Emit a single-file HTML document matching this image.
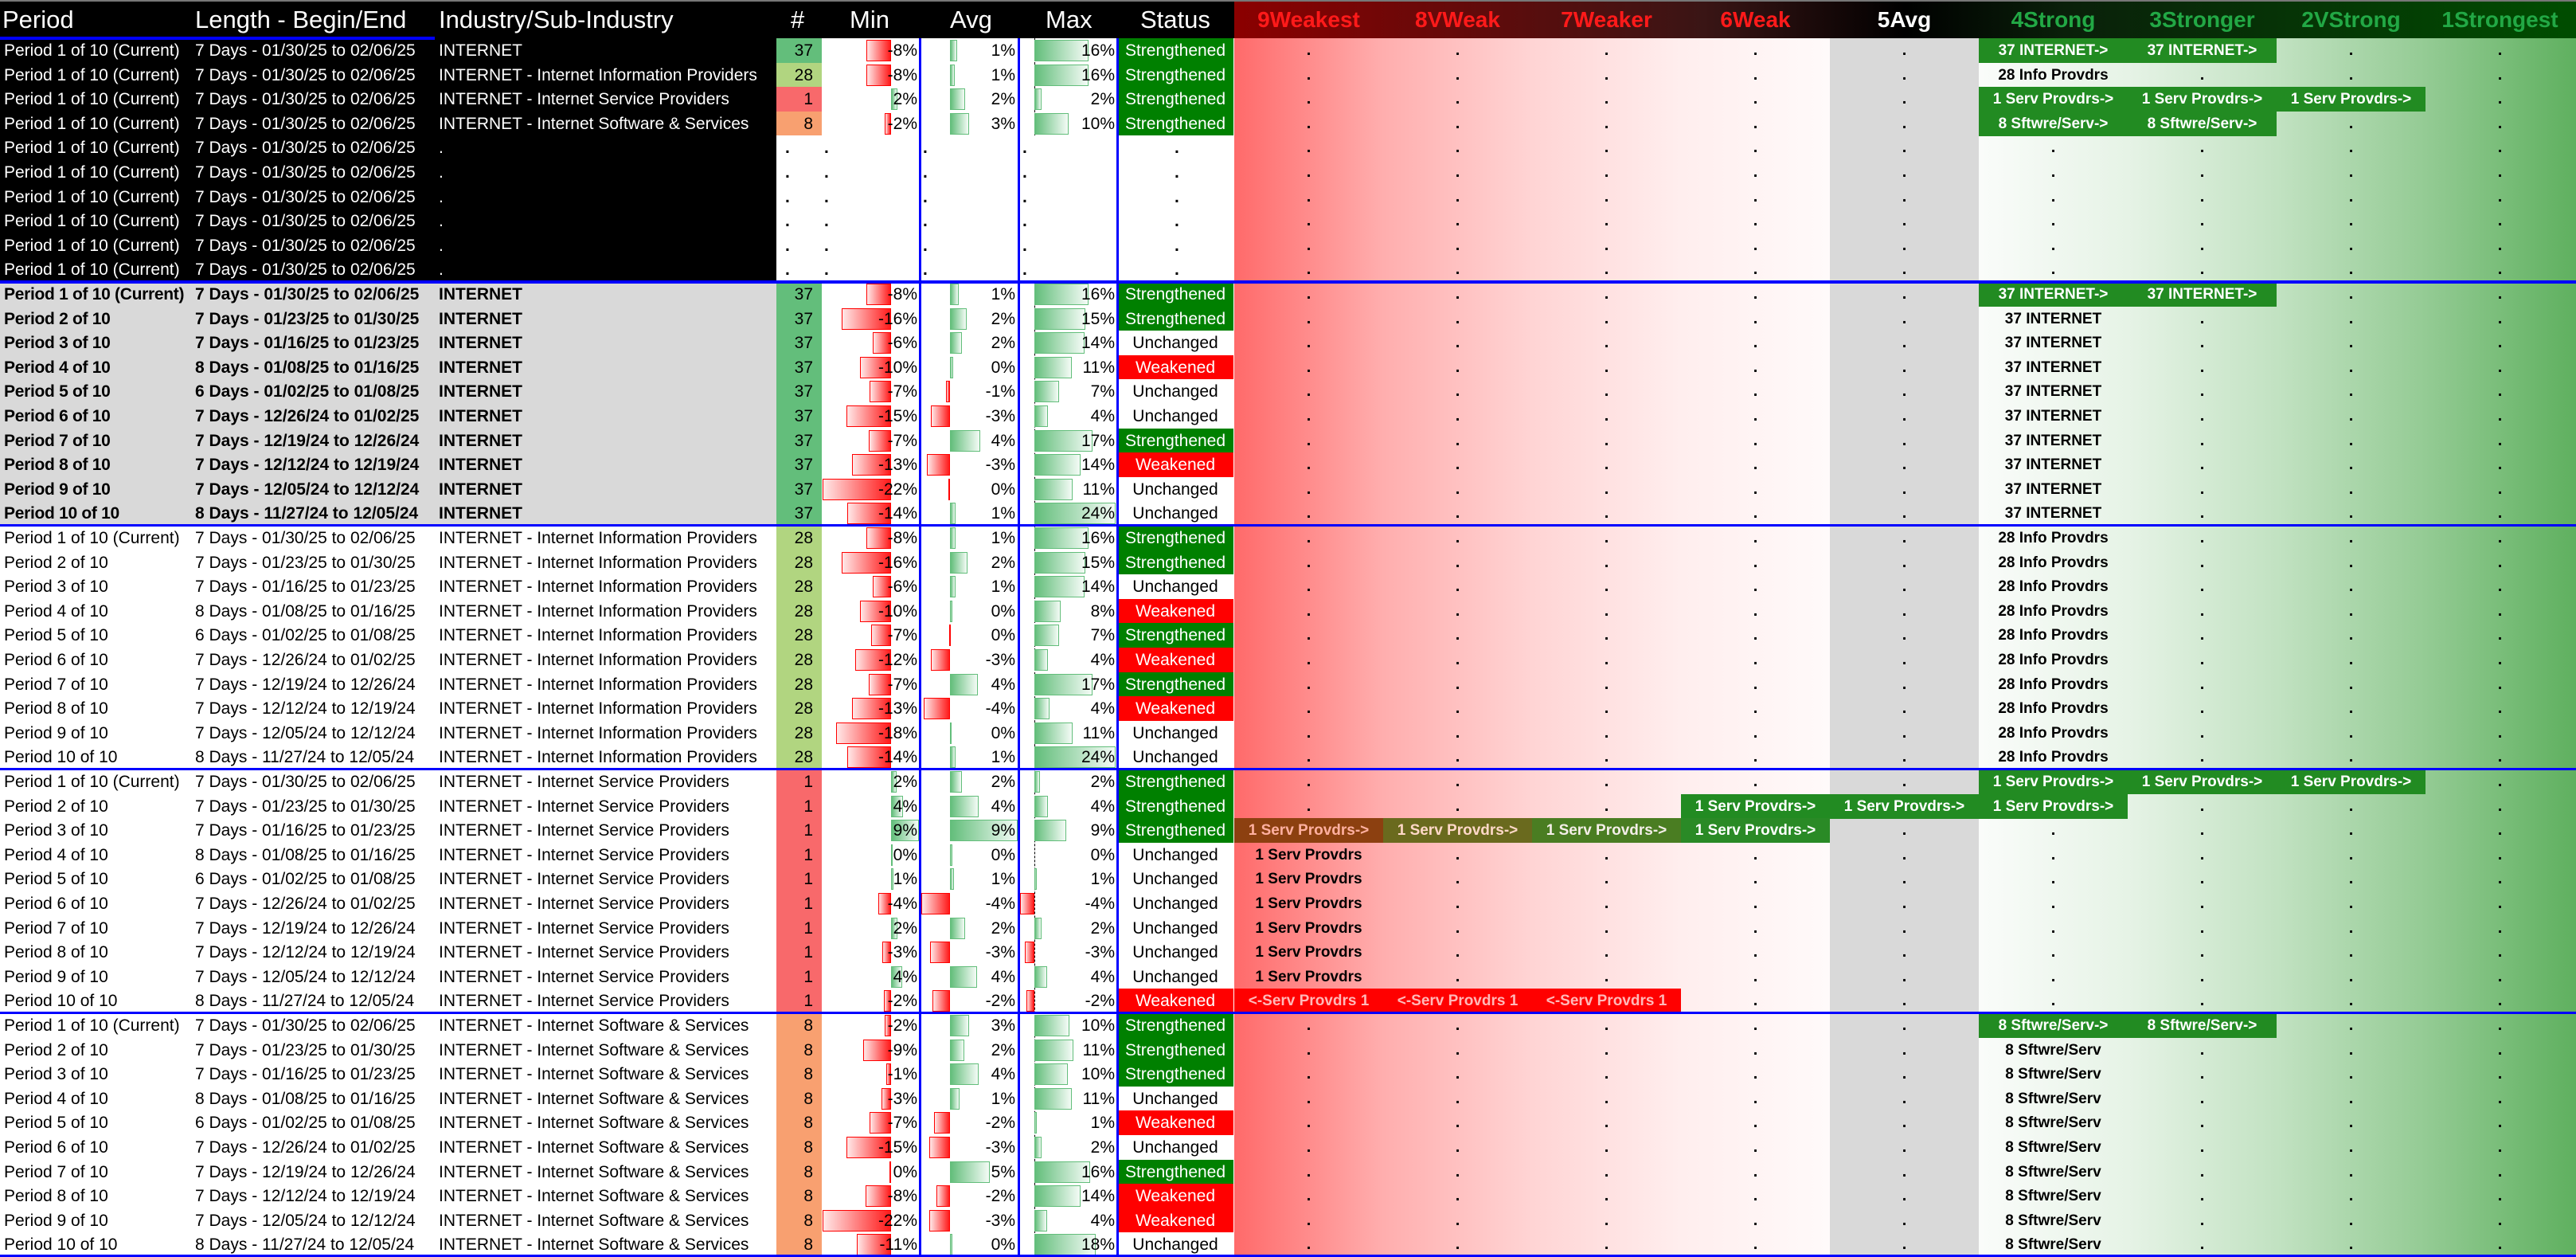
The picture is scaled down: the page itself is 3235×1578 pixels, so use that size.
<!DOCTYPE html>
<html><head><meta charset="utf-8"><style>
body{margin:0;width:3235px;height:1578px;position:relative;overflow:hidden;background:#fff;font-family:"Liberation Sans",sans-serif;}
.bx{position:absolute}
.r{position:absolute;left:0;width:3235px;height:31px;font-size:21px;line-height:31px;color:#000}
.r>span{position:absolute;top:0;height:31px;white-space:nowrap}
.p{left:5px}.l{left:245px}.i{left:551px}
.k .p,.k .l,.k .i{color:#fff}
.b .p,.b .l,.b .i{font-weight:bold}
.b .p{letter-spacing:-0.3px}
.n{left:975px;width:57px;text-align:right;padding-right:11px;box-sizing:border-box}
.vm{left:1032px;width:120px;text-align:right}
.va{left:1157px;width:118px;text-align:right}
.vx{left:1281px;width:119px;text-align:right}
.s{left:1403px;width:146px;text-align:center}
.S{background:#008000;color:#fff}.W{background:#f00;color:#fff}.U{background:#fff}
.d{font-weight:bold}
em{position:absolute;top:2px;height:27px;box-sizing:border-box}
.bn{border:1px solid #f00;background:linear-gradient(90deg,#ffe8e8,#ff1a1a)}
.bp{border:1px solid #63be7b;background:linear-gradient(90deg,#63be7b,#f4fbf6)}
.L{position:absolute;left:1550px;top:0;width:1683px;height:31px;display:flex;font-size:19px;font-weight:bold}
.L>*{flex:0 0 187px;text-align:center;font-style:normal;white-space:nowrap}
.L i{font-size:20px}
.g{background:#228b22;color:#fff}
.rd{background:#f00;color:#ffb8b8}
.hd{position:absolute;top:0;height:48px;line-height:50px;font-size:31px;color:#fff;white-space:nowrap}
.hl{position:absolute;top:0;height:48px;line-height:50px;font-size:28px;font-weight:bold;width:187px;text-align:center}
</style></head><body>
<div class="bx" style="left:0;top:0;width:3235px;height:48px;background:#000"></div>
<div class="bx" style="left:1550px;top:0;width:1685px;height:48px;background:linear-gradient(90deg,#8b0000 0%,#3a1515 35%,#000 50%,#0a200a 62%,#004d00 100%)"></div>
<div class="bx" style="left:1550px;top:48px;width:1685px;height:1530px;background:linear-gradient(90deg,#ff6a6a 0px,#ffaeae 187px,#ffd4d4 374px,#ffeeee 561px,#fffafa 748px,#d9d9d9 748px,#d9d9d9 935px,#fafcfa 935px,#e6f3e6 1122px,#c2e2c2 1309px,#94cb94 1496px,#5fb05f 1685px)"></div>
<div class="bx" style="left:0;top:48px;width:975px;height:306px;background:#000"></div>
<div class="bx" style="left:0;top:354px;width:975px;height:306px;background:#d9d9d9"></div>
<div class="bx" style="left:975px;top:354px;width:57px;height:306px;background:#63be7b"></div>
<div class="bx" style="left:975px;top:660px;width:57px;height:306px;background:#b1d580"></div>
<div class="bx" style="left:975px;top:966px;width:57px;height:306px;background:#f8696b"></div>
<div class="bx" style="left:975px;top:1272px;width:57px;height:306px;background:#f8a070"></div>
<div class="bx" style="left:1299px;top:48px;width:0;height:1530px;border-left:1px dashed #000"></div>
<span class="hd" style="left:3px">Period</span>
<span class="hd" style="left:245px">Length - Begin/End</span>
<span class="hd" style="left:551px">Industry/Sub-Industry</span>
<span class="hd" style="left:993px">#</span>
<span class="hd" style="left:1067px">Min</span>
<span class="hd" style="left:1193px">Avg</span>
<span class="hd" style="left:1313px">Max</span>
<span class="hd" style="left:1432px">Status</span>
<span class="hl" style="left:1550px;color:#ff1a1a">9Weakest</span>
<span class="hl" style="left:1737px;color:#ff1a1a">8VWeak</span>
<span class="hl" style="left:1924px;color:#ff1a1a">7Weaker</span>
<span class="hl" style="left:2111px;color:#ff1a1a">6Weak</span>
<span class="hl" style="left:2298px;color:#fff">5Avg</span>
<span class="hl" style="left:2485px;color:#22a845">4Strong</span>
<span class="hl" style="left:2672px;color:#22a845">3Stronger</span>
<span class="hl" style="left:2859px;color:#22a845">2VStrong</span>
<span class="hl" style="left:3046px;color:#22a845">1Strongest</span>

<div class="r k" style="top:48px"><span class="p">Period 1 of 10 (Current)</span><span class="l">7 Days - 01/30/25 to 02/06/25</span><span class="i">INTERNET</span><span class="n" style="background:#63be7b">37</span><em class="bn" style="left:1088px;width:31px"></em><em class="bp" style="left:1193px;width:9px"></em><em class="bp" style="left:1299px;width:68px"></em><span class="vm">-8%</span><span class="va">1%</span><span class="vx">16%</span><span class="s S">Strengthened</span><div class="L"><i>.</i><i>.</i><i>.</i><i>.</i><i>.</i><b class="g">37 INTERNET-&gt;</b><b class="g">37 INTERNET-&gt;</b><i>.</i><i>.</i></div></div>
<div class="r k" style="top:79px"><span class="p">Period 1 of 10 (Current)</span><span class="l">7 Days - 01/30/25 to 02/06/25</span><span class="i">INTERNET - Internet Information Providers</span><span class="n" style="background:#b1d580">28</span><em class="bn" style="left:1088px;width:31px"></em><em class="bp" style="left:1193px;width:6px"></em><em class="bp" style="left:1299px;width:68px"></em><span class="vm">-8%</span><span class="va">1%</span><span class="vx">16%</span><span class="s S">Strengthened</span><div class="L"><i>.</i><i>.</i><i>.</i><i>.</i><i>.</i><b>28 Info Provdrs</b><i>.</i><i>.</i><i>.</i></div></div>
<div class="r k" style="top:109px"><span class="p">Period 1 of 10 (Current)</span><span class="l">7 Days - 01/30/25 to 02/06/25</span><span class="i">INTERNET - Internet Service Providers</span><span class="n" style="background:#f8696b">1</span><em class="bp" style="left:1119px;width:8px"></em><em class="bp" style="left:1193px;width:19px"></em><em class="bp" style="left:1299px;width:9px"></em><span class="vm">2%</span><span class="va">2%</span><span class="vx">2%</span><span class="s S">Strengthened</span><div class="L"><i>.</i><i>.</i><i>.</i><i>.</i><i>.</i><b class="g">1 Serv Provdrs-&gt;</b><b class="g">1 Serv Provdrs-&gt;</b><b class="g">1 Serv Provdrs-&gt;</b><i>.</i></div></div>
<div class="r k" style="top:140px"><span class="p">Period 1 of 10 (Current)</span><span class="l">7 Days - 01/30/25 to 02/06/25</span><span class="i">INTERNET - Internet Software &amp; Services</span><span class="n" style="background:#f8a070">8</span><em class="bn" style="left:1111px;width:8px"></em><em class="bp" style="left:1193px;width:24px"></em><em class="bp" style="left:1299px;width:43px"></em><span class="vm">-2%</span><span class="va">3%</span><span class="vx">10%</span><span class="s S">Strengthened</span><div class="L"><i>.</i><i>.</i><i>.</i><i>.</i><i>.</i><b class="g">8 Sftwre/Serv-&gt;</b><b class="g">8 Sftwre/Serv-&gt;</b><i>.</i><i>.</i></div></div>
<div class="bx" style="left:975px;top:170px;width:574px;height:184px;background:#fff"></div>
<div class="r k" style="top:170px"><span class="p">Period 1 of 10 (Current)</span><span class="l">7 Days - 01/30/25 to 02/06/25</span><span class="i">.</span><span class="d" style="left:986px">.</span><span class="d" style="left:1035px">.</span><span class="d" style="left:1159px">.</span><span class="d" style="left:1284px">.</span><span class="d" style="left:1475px">.</span><div class="L"><i>.</i><i>.</i><i>.</i><i>.</i><i>.</i><i>.</i><i>.</i><i>.</i><i>.</i></div></div>
<div class="r k" style="top:201px"><span class="p">Period 1 of 10 (Current)</span><span class="l">7 Days - 01/30/25 to 02/06/25</span><span class="i">.</span><span class="d" style="left:986px">.</span><span class="d" style="left:1035px">.</span><span class="d" style="left:1159px">.</span><span class="d" style="left:1284px">.</span><span class="d" style="left:1475px">.</span><div class="L"><i>.</i><i>.</i><i>.</i><i>.</i><i>.</i><i>.</i><i>.</i><i>.</i><i>.</i></div></div>
<div class="r k" style="top:232px"><span class="p">Period 1 of 10 (Current)</span><span class="l">7 Days - 01/30/25 to 02/06/25</span><span class="i">.</span><span class="d" style="left:986px">.</span><span class="d" style="left:1035px">.</span><span class="d" style="left:1159px">.</span><span class="d" style="left:1284px">.</span><span class="d" style="left:1475px">.</span><div class="L"><i>.</i><i>.</i><i>.</i><i>.</i><i>.</i><i>.</i><i>.</i><i>.</i><i>.</i></div></div>
<div class="r k" style="top:262px"><span class="p">Period 1 of 10 (Current)</span><span class="l">7 Days - 01/30/25 to 02/06/25</span><span class="i">.</span><span class="d" style="left:986px">.</span><span class="d" style="left:1035px">.</span><span class="d" style="left:1159px">.</span><span class="d" style="left:1284px">.</span><span class="d" style="left:1475px">.</span><div class="L"><i>.</i><i>.</i><i>.</i><i>.</i><i>.</i><i>.</i><i>.</i><i>.</i><i>.</i></div></div>
<div class="r k" style="top:293px"><span class="p">Period 1 of 10 (Current)</span><span class="l">7 Days - 01/30/25 to 02/06/25</span><span class="i">.</span><span class="d" style="left:986px">.</span><span class="d" style="left:1035px">.</span><span class="d" style="left:1159px">.</span><span class="d" style="left:1284px">.</span><span class="d" style="left:1475px">.</span><div class="L"><i>.</i><i>.</i><i>.</i><i>.</i><i>.</i><i>.</i><i>.</i><i>.</i><i>.</i></div></div>
<div class="r k" style="top:323px"><span class="p">Period 1 of 10 (Current)</span><span class="l">7 Days - 01/30/25 to 02/06/25</span><span class="i">.</span><span class="d" style="left:986px">.</span><span class="d" style="left:1035px">.</span><span class="d" style="left:1159px">.</span><span class="d" style="left:1284px">.</span><span class="d" style="left:1475px">.</span><div class="L"><i>.</i><i>.</i><i>.</i><i>.</i><i>.</i><i>.</i><i>.</i><i>.</i><i>.</i></div></div>

<div class="r b" style="top:354px"><span class="p">Period 1 of 10 (Current)</span><span class="l">7 Days - 01/30/25 to 02/06/25</span><span class="i">INTERNET</span><span class="n">37</span><em class="bn" style="left:1088px;width:31px"></em><em class="bp" style="left:1193px;width:11px"></em><em class="bp" style="left:1299px;width:68px"></em><span class="vm">-8%</span><span class="va">1%</span><span class="vx">16%</span><span class="s S">Strengthened</span><div class="L"><i>.</i><i>.</i><i>.</i><i>.</i><i>.</i><b class="g">37 INTERNET-&gt;</b><b class="g">37 INTERNET-&gt;</b><i>.</i><i>.</i></div></div>
<div class="r b" style="top:385px"><span class="p">Period 2 of 10</span><span class="l">7 Days - 01/23/25 to 01/30/25</span><span class="i">INTERNET</span><span class="n">37</span><em class="bn" style="left:1057px;width:62px"></em><em class="bp" style="left:1193px;width:21px"></em><em class="bp" style="left:1299px;width:64px"></em><span class="vm">-16%</span><span class="va">2%</span><span class="vx">15%</span><span class="s S">Strengthened</span><div class="L"><i>.</i><i>.</i><i>.</i><i>.</i><i>.</i><b>37 INTERNET</b><i>.</i><i>.</i><i>.</i></div></div>
<div class="r b" style="top:415px"><span class="p">Period 3 of 10</span><span class="l">7 Days - 01/16/25 to 01/23/25</span><span class="i">INTERNET</span><span class="n">37</span><em class="bn" style="left:1096px;width:23px"></em><em class="bp" style="left:1193px;width:15px"></em><em class="bp" style="left:1299px;width:63px"></em><span class="vm">-6%</span><span class="va">2%</span><span class="vx">14%</span><span class="s U">Unchanged</span><div class="L"><i>.</i><i>.</i><i>.</i><i>.</i><i>.</i><b>37 INTERNET</b><i>.</i><i>.</i><i>.</i></div></div>
<div class="r b" style="top:446px"><span class="p">Period 4 of 10</span><span class="l">8 Days - 01/08/25 to 01/16/25</span><span class="i">INTERNET</span><span class="n">37</span><em class="bn" style="left:1080px;width:39px"></em><em class="bp" style="left:1193px;width:4px"></em><em class="bp" style="left:1299px;width:47px"></em><span class="vm">-10%</span><span class="va">0%</span><span class="vx">11%</span><span class="s W">Weakened</span><div class="L"><i>.</i><i>.</i><i>.</i><i>.</i><i>.</i><b>37 INTERNET</b><i>.</i><i>.</i><i>.</i></div></div>
<div class="r b" style="top:476px"><span class="p">Period 5 of 10</span><span class="l">6 Days - 01/02/25 to 01/08/25</span><span class="i">INTERNET</span><span class="n">37</span><em class="bn" style="left:1092px;width:27px"></em><em class="bn" style="left:1188px;width:5px"></em><em class="bp" style="left:1299px;width:31px"></em><span class="vm">-7%</span><span class="va">-1%</span><span class="vx">7%</span><span class="s U">Unchanged</span><div class="L"><i>.</i><i>.</i><i>.</i><i>.</i><i>.</i><b>37 INTERNET</b><i>.</i><i>.</i><i>.</i></div></div>
<div class="r b" style="top:507px"><span class="p">Period 6 of 10</span><span class="l">7 Days - 12/26/24 to 01/02/25</span><span class="i">INTERNET</span><span class="n">37</span><em class="bn" style="left:1063px;width:56px"></em><em class="bn" style="left:1169px;width:24px"></em><em class="bp" style="left:1299px;width:17px"></em><span class="vm">-15%</span><span class="va">-3%</span><span class="vx">4%</span><span class="s U">Unchanged</span><div class="L"><i>.</i><i>.</i><i>.</i><i>.</i><i>.</i><b>37 INTERNET</b><i>.</i><i>.</i><i>.</i></div></div>
<div class="r b" style="top:538px"><span class="p">Period 7 of 10</span><span class="l">7 Days - 12/19/24 to 12/26/24</span><span class="i">INTERNET</span><span class="n">37</span><em class="bn" style="left:1091px;width:28px"></em><em class="bp" style="left:1193px;width:38px"></em><em class="bp" style="left:1299px;width:73px"></em><span class="vm">-7%</span><span class="va">4%</span><span class="vx">17%</span><span class="s S">Strengthened</span><div class="L"><i>.</i><i>.</i><i>.</i><i>.</i><i>.</i><b>37 INTERNET</b><i>.</i><i>.</i><i>.</i></div></div>
<div class="r b" style="top:568px"><span class="p">Period 8 of 10</span><span class="l">7 Days - 12/12/24 to 12/19/24</span><span class="i">INTERNET</span><span class="n">37</span><em class="bn" style="left:1070px;width:49px"></em><em class="bn" style="left:1164px;width:29px"></em><em class="bp" style="left:1299px;width:58px"></em><span class="vm">-13%</span><span class="va">-3%</span><span class="vx">14%</span><span class="s W">Weakened</span><div class="L"><i>.</i><i>.</i><i>.</i><i>.</i><i>.</i><b>37 INTERNET</b><i>.</i><i>.</i><i>.</i></div></div>
<div class="r b" style="top:599px"><span class="p">Period 9 of 10</span><span class="l">7 Days - 12/05/24 to 12/12/24</span><span class="i">INTERNET</span><span class="n">37</span><em class="bn" style="left:1033px;width:86px"></em><em class="bn" style="left:1191px;width:2px"></em><em class="bp" style="left:1299px;width:48px"></em><span class="vm">-22%</span><span class="va">0%</span><span class="vx">11%</span><span class="s U">Unchanged</span><div class="L"><i>.</i><i>.</i><i>.</i><i>.</i><i>.</i><b>37 INTERNET</b><i>.</i><i>.</i><i>.</i></div></div>
<div class="r b" style="top:629px"><span class="p">Period 10 of 10</span><span class="l">8 Days - 11/27/24 to 12/05/24</span><span class="i">INTERNET</span><span class="n">37</span><em class="bn" style="left:1064px;width:55px"></em><em class="bp" style="left:1193px;width:7px"></em><em class="bp" style="left:1299px;width:102px"></em><span class="vm">-14%</span><span class="va">1%</span><span class="vx">24%</span><span class="s U">Unchanged</span><div class="L"><i>.</i><i>.</i><i>.</i><i>.</i><i>.</i><b>37 INTERNET</b><i>.</i><i>.</i><i>.</i></div></div>

<div class="r" style="top:660px"><span class="p">Period 1 of 10 (Current)</span><span class="l">7 Days - 01/30/25 to 02/06/25</span><span class="i">INTERNET - Internet Information Providers</span><span class="n">28</span><em class="bn" style="left:1088px;width:31px"></em><em class="bp" style="left:1193px;width:7px"></em><em class="bp" style="left:1299px;width:68px"></em><span class="vm">-8%</span><span class="va">1%</span><span class="vx">16%</span><span class="s S">Strengthened</span><div class="L"><i>.</i><i>.</i><i>.</i><i>.</i><i>.</i><b>28 Info Provdrs</b><i>.</i><i>.</i><i>.</i></div></div>
<div class="r" style="top:691px"><span class="p">Period 2 of 10</span><span class="l">7 Days - 01/23/25 to 01/30/25</span><span class="i">INTERNET - Internet Information Providers</span><span class="n">28</span><em class="bn" style="left:1057px;width:62px"></em><em class="bp" style="left:1193px;width:22px"></em><em class="bp" style="left:1299px;width:64px"></em><span class="vm">-16%</span><span class="va">2%</span><span class="vx">15%</span><span class="s S">Strengthened</span><div class="L"><i>.</i><i>.</i><i>.</i><i>.</i><i>.</i><b>28 Info Provdrs</b><i>.</i><i>.</i><i>.</i></div></div>
<div class="r" style="top:721px"><span class="p">Period 3 of 10</span><span class="l">7 Days - 01/16/25 to 01/23/25</span><span class="i">INTERNET - Internet Information Providers</span><span class="n">28</span><em class="bn" style="left:1096px;width:23px"></em><em class="bp" style="left:1193px;width:7px"></em><em class="bp" style="left:1299px;width:63px"></em><span class="vm">-6%</span><span class="va">1%</span><span class="vx">14%</span><span class="s U">Unchanged</span><div class="L"><i>.</i><i>.</i><i>.</i><i>.</i><i>.</i><b>28 Info Provdrs</b><i>.</i><i>.</i><i>.</i></div></div>
<div class="r" style="top:752px"><span class="p">Period 4 of 10</span><span class="l">8 Days - 01/08/25 to 01/16/25</span><span class="i">INTERNET - Internet Information Providers</span><span class="n">28</span><em class="bn" style="left:1080px;width:39px"></em><em class="bp" style="left:1193px;width:3px"></em><em class="bp" style="left:1299px;width:33px"></em><span class="vm">-10%</span><span class="va">0%</span><span class="vx">8%</span><span class="s W">Weakened</span><div class="L"><i>.</i><i>.</i><i>.</i><i>.</i><i>.</i><b>28 Info Provdrs</b><i>.</i><i>.</i><i>.</i></div></div>
<div class="r" style="top:782px"><span class="p">Period 5 of 10</span><span class="l">6 Days - 01/02/25 to 01/08/25</span><span class="i">INTERNET - Internet Information Providers</span><span class="n">28</span><em class="bn" style="left:1094px;width:25px"></em><em class="bn" style="left:1192px;width:1px"></em><em class="bp" style="left:1299px;width:31px"></em><span class="vm">-7%</span><span class="va">0%</span><span class="vx">7%</span><span class="s S">Strengthened</span><div class="L"><i>.</i><i>.</i><i>.</i><i>.</i><i>.</i><b>28 Info Provdrs</b><i>.</i><i>.</i><i>.</i></div></div>
<div class="r" style="top:813px"><span class="p">Period 6 of 10</span><span class="l">7 Days - 12/26/24 to 01/02/25</span><span class="i">INTERNET - Internet Information Providers</span><span class="n">28</span><em class="bn" style="left:1074px;width:45px"></em><em class="bn" style="left:1169px;width:24px"></em><em class="bp" style="left:1299px;width:17px"></em><span class="vm">-12%</span><span class="va">-3%</span><span class="vx">4%</span><span class="s W">Weakened</span><div class="L"><i>.</i><i>.</i><i>.</i><i>.</i><i>.</i><b>28 Info Provdrs</b><i>.</i><i>.</i><i>.</i></div></div>
<div class="r" style="top:844px"><span class="p">Period 7 of 10</span><span class="l">7 Days - 12/19/24 to 12/26/24</span><span class="i">INTERNET - Internet Information Providers</span><span class="n">28</span><em class="bn" style="left:1091px;width:28px"></em><em class="bp" style="left:1193px;width:35px"></em><em class="bp" style="left:1299px;width:73px"></em><span class="vm">-7%</span><span class="va">4%</span><span class="vx">17%</span><span class="s S">Strengthened</span><div class="L"><i>.</i><i>.</i><i>.</i><i>.</i><i>.</i><b>28 Info Provdrs</b><i>.</i><i>.</i><i>.</i></div></div>
<div class="r" style="top:874px"><span class="p">Period 8 of 10</span><span class="l">7 Days - 12/12/24 to 12/19/24</span><span class="i">INTERNET - Internet Information Providers</span><span class="n">28</span><em class="bn" style="left:1070px;width:49px"></em><em class="bn" style="left:1160px;width:33px"></em><em class="bp" style="left:1299px;width:19px"></em><span class="vm">-13%</span><span class="va">-4%</span><span class="vx">4%</span><span class="s W">Weakened</span><div class="L"><i>.</i><i>.</i><i>.</i><i>.</i><i>.</i><b>28 Info Provdrs</b><i>.</i><i>.</i><i>.</i></div></div>
<div class="r" style="top:905px"><span class="p">Period 9 of 10</span><span class="l">7 Days - 12/05/24 to 12/12/24</span><span class="i">INTERNET - Internet Information Providers</span><span class="n">28</span><em class="bn" style="left:1050px;width:69px"></em><em class="bp" style="left:1193px;width:2px"></em><em class="bp" style="left:1299px;width:48px"></em><span class="vm">-18%</span><span class="va">0%</span><span class="vx">11%</span><span class="s U">Unchanged</span><div class="L"><i>.</i><i>.</i><i>.</i><i>.</i><i>.</i><b>28 Info Provdrs</b><i>.</i><i>.</i><i>.</i></div></div>
<div class="r" style="top:935px"><span class="p">Period 10 of 10</span><span class="l">8 Days - 11/27/24 to 12/05/24</span><span class="i">INTERNET - Internet Information Providers</span><span class="n">28</span><em class="bn" style="left:1064px;width:55px"></em><em class="bp" style="left:1193px;width:7px"></em><em class="bp" style="left:1299px;width:102px"></em><span class="vm">-14%</span><span class="va">1%</span><span class="vx">24%</span><span class="s U">Unchanged</span><div class="L"><i>.</i><i>.</i><i>.</i><i>.</i><i>.</i><b>28 Info Provdrs</b><i>.</i><i>.</i><i>.</i></div></div>

<div class="r" style="top:966px"><span class="p">Period 1 of 10 (Current)</span><span class="l">7 Days - 01/30/25 to 02/06/25</span><span class="i">INTERNET - Internet Service Providers</span><span class="n">1</span><em class="bp" style="left:1119px;width:7px"></em><em class="bp" style="left:1193px;width:15px"></em><em class="bp" style="left:1299px;width:7px"></em><span class="vm">2%</span><span class="va">2%</span><span class="vx">2%</span><span class="s S">Strengthened</span><div class="L"><i>.</i><i>.</i><i>.</i><i>.</i><i>.</i><b class="g">1 Serv Provdrs-&gt;</b><b class="g">1 Serv Provdrs-&gt;</b><b class="g">1 Serv Provdrs-&gt;</b><i>.</i></div></div>
<div class="r" style="top:997px"><span class="p">Period 2 of 10</span><span class="l">7 Days - 01/23/25 to 01/30/25</span><span class="i">INTERNET - Internet Service Providers</span><span class="n">1</span><em class="bp" style="left:1119px;width:15px"></em><em class="bp" style="left:1193px;width:36px"></em><em class="bp" style="left:1299px;width:17px"></em><span class="vm">4%</span><span class="va">4%</span><span class="vx">4%</span><span class="s S">Strengthened</span><div class="L"><i>.</i><i>.</i><i>.</i><b class="g">1 Serv Provdrs-&gt;</b><b class="g">1 Serv Provdrs-&gt;</b><b class="g">1 Serv Provdrs-&gt;</b><i>.</i><i>.</i><i>.</i></div></div>
<div class="r" style="top:1027px"><span class="p">Period 3 of 10</span><span class="l">7 Days - 01/16/25 to 01/23/25</span><span class="i">INTERNET - Internet Service Providers</span><span class="n">1</span><em class="bp" style="left:1119px;width:35px"></em><em class="bp" style="left:1193px;width:85px"></em><em class="bp" style="left:1299px;width:40px"></em><span class="vm">9%</span><span class="va">9%</span><span class="vx">9%</span><span class="s S">Strengthened</span><div class="L"><b style="background:#8c4010;color:#ffb0a0">1 Serv Provdrs-&gt;</b><b style="background:#6a6a1e;color:#ffd8c8">1 Serv Provdrs-&gt;</b><b style="background:#4a7d22;color:#f4eee8">1 Serv Provdrs-&gt;</b><b style="background:#2a8a26;color:#fff">1 Serv Provdrs-&gt;</b><i>.</i><i>.</i><i>.</i><i>.</i><i>.</i></div></div>
<div class="r" style="top:1058px"><span class="p">Period 4 of 10</span><span class="l">8 Days - 01/08/25 to 01/16/25</span><span class="i">INTERNET - Internet Service Providers</span><span class="n">1</span><em class="bp" style="left:1119px;width:1px"></em><em class="bp" style="left:1193px;width:3px"></em><span class="vm">0%</span><span class="va">0%</span><span class="vx">0%</span><span class="s U">Unchanged</span><div class="L"><b>1 Serv Provdrs</b><i>.</i><i>.</i><i>.</i><i>.</i><i>.</i><i>.</i><i>.</i><i>.</i></div></div>
<div class="r" style="top:1088px"><span class="p">Period 5 of 10</span><span class="l">6 Days - 01/02/25 to 01/08/25</span><span class="i">INTERNET - Internet Service Providers</span><span class="n">1</span><em class="bp" style="left:1119px;width:3px"></em><em class="bp" style="left:1193px;width:5px"></em><em class="bp" style="left:1299px;width:3px"></em><span class="vm">1%</span><span class="va">1%</span><span class="vx">1%</span><span class="s U">Unchanged</span><div class="L"><b>1 Serv Provdrs</b><i>.</i><i>.</i><i>.</i><i>.</i><i>.</i><i>.</i><i>.</i><i>.</i></div></div>
<div class="r" style="top:1119px"><span class="p">Period 6 of 10</span><span class="l">7 Days - 12/26/24 to 01/02/25</span><span class="i">INTERNET - Internet Service Providers</span><span class="n">1</span><em class="bn" style="left:1103px;width:16px"></em><em class="bn" style="left:1157px;width:36px"></em><em class="bn" style="left:1281px;width:18px"></em><span class="vm">-4%</span><span class="va">-4%</span><span class="vx">-4%</span><span class="s U">Unchanged</span><div class="L"><b>1 Serv Provdrs</b><i>.</i><i>.</i><i>.</i><i>.</i><i>.</i><i>.</i><i>.</i><i>.</i></div></div>
<div class="r" style="top:1150px"><span class="p">Period 7 of 10</span><span class="l">7 Days - 12/19/24 to 12/26/24</span><span class="i">INTERNET - Internet Service Providers</span><span class="n">1</span><em class="bp" style="left:1119px;width:8px"></em><em class="bp" style="left:1193px;width:19px"></em><em class="bp" style="left:1299px;width:9px"></em><span class="vm">2%</span><span class="va">2%</span><span class="vx">2%</span><span class="s U">Unchanged</span><div class="L"><b>1 Serv Provdrs</b><i>.</i><i>.</i><i>.</i><i>.</i><i>.</i><i>.</i><i>.</i><i>.</i></div></div>
<div class="r" style="top:1180px"><span class="p">Period 8 of 10</span><span class="l">7 Days - 12/12/24 to 12/19/24</span><span class="i">INTERNET - Internet Service Providers</span><span class="n">1</span><em class="bn" style="left:1108px;width:11px"></em><em class="bn" style="left:1168px;width:25px"></em><em class="bn" style="left:1287px;width:12px"></em><span class="vm">-3%</span><span class="va">-3%</span><span class="vx">-3%</span><span class="s U">Unchanged</span><div class="L"><b>1 Serv Provdrs</b><i>.</i><i>.</i><i>.</i><i>.</i><i>.</i><i>.</i><i>.</i><i>.</i></div></div>
<div class="r" style="top:1211px"><span class="p">Period 9 of 10</span><span class="l">7 Days - 12/05/24 to 12/12/24</span><span class="i">INTERNET - Internet Service Providers</span><span class="n">1</span><em class="bp" style="left:1119px;width:14px"></em><em class="bp" style="left:1193px;width:34px"></em><em class="bp" style="left:1299px;width:16px"></em><span class="vm">4%</span><span class="va">4%</span><span class="vx">4%</span><span class="s U">Unchanged</span><div class="L"><b>1 Serv Provdrs</b><i>.</i><i>.</i><i>.</i><i>.</i><i>.</i><i>.</i><i>.</i><i>.</i></div></div>
<div class="r" style="top:1241px"><span class="p">Period 10 of 10</span><span class="l">8 Days - 11/27/24 to 12/05/24</span><span class="i">INTERNET - Internet Service Providers</span><span class="n">1</span><em class="bn" style="left:1110px;width:9px"></em><em class="bn" style="left:1171px;width:22px"></em><em class="bn" style="left:1289px;width:10px"></em><span class="vm">-2%</span><span class="va">-2%</span><span class="vx">-2%</span><span class="s W">Weakened</span><div class="L"><b class="rd">&lt;-Serv Provdrs 1</b><b class="rd">&lt;-Serv Provdrs 1</b><b class="rd">&lt;-Serv Provdrs 1</b><i>.</i><i>.</i><i>.</i><i>.</i><i>.</i><i>.</i></div></div>

<div class="r" style="top:1272px"><span class="p">Period 1 of 10 (Current)</span><span class="l">7 Days - 01/30/25 to 02/06/25</span><span class="i">INTERNET - Internet Software &amp; Services</span><span class="n">8</span><em class="bn" style="left:1111px;width:8px"></em><em class="bp" style="left:1193px;width:24px"></em><em class="bp" style="left:1299px;width:44px"></em><span class="vm">-2%</span><span class="va">3%</span><span class="vx">10%</span><span class="s S">Strengthened</span><div class="L"><i>.</i><i>.</i><i>.</i><i>.</i><i>.</i><b class="g">8 Sftwre/Serv-&gt;</b><b class="g">8 Sftwre/Serv-&gt;</b><i>.</i><i>.</i></div></div>
<div class="r" style="top:1303px"><span class="p">Period 2 of 10</span><span class="l">7 Days - 01/23/25 to 01/30/25</span><span class="i">INTERNET - Internet Software &amp; Services</span><span class="n">8</span><em class="bn" style="left:1084px;width:35px"></em><em class="bp" style="left:1193px;width:18px"></em><em class="bp" style="left:1299px;width:49px"></em><span class="vm">-9%</span><span class="va">2%</span><span class="vx">11%</span><span class="s S">Strengthened</span><div class="L"><i>.</i><i>.</i><i>.</i><i>.</i><i>.</i><b>8 Sftwre/Serv</b><i>.</i><i>.</i><i>.</i></div></div>
<div class="r" style="top:1333px"><span class="p">Period 3 of 10</span><span class="l">7 Days - 01/16/25 to 01/23/25</span><span class="i">INTERNET - Internet Software &amp; Services</span><span class="n">8</span><em class="bn" style="left:1113px;width:6px"></em><em class="bp" style="left:1193px;width:36px"></em><em class="bp" style="left:1299px;width:42px"></em><span class="vm">-1%</span><span class="va">4%</span><span class="vx">10%</span><span class="s S">Strengthened</span><div class="L"><i>.</i><i>.</i><i>.</i><i>.</i><i>.</i><b>8 Sftwre/Serv</b><i>.</i><i>.</i><i>.</i></div></div>
<div class="r" style="top:1364px"><span class="p">Period 4 of 10</span><span class="l">8 Days - 01/08/25 to 01/16/25</span><span class="i">INTERNET - Internet Software &amp; Services</span><span class="n">8</span><em class="bn" style="left:1107px;width:12px"></em><em class="bp" style="left:1193px;width:12px"></em><em class="bp" style="left:1299px;width:47px"></em><span class="vm">-3%</span><span class="va">1%</span><span class="vx">11%</span><span class="s U">Unchanged</span><div class="L"><i>.</i><i>.</i><i>.</i><i>.</i><i>.</i><b>8 Sftwre/Serv</b><i>.</i><i>.</i><i>.</i></div></div>
<div class="r" style="top:1394px"><span class="p">Period 5 of 10</span><span class="l">6 Days - 01/02/25 to 01/08/25</span><span class="i">INTERNET - Internet Software &amp; Services</span><span class="n">8</span><em class="bn" style="left:1092px;width:27px"></em><em class="bn" style="left:1173px;width:20px"></em><em class="bp" style="left:1299px;width:3px"></em><span class="vm">-7%</span><span class="va">-2%</span><span class="vx">1%</span><span class="s W">Weakened</span><div class="L"><i>.</i><i>.</i><i>.</i><i>.</i><i>.</i><b>8 Sftwre/Serv</b><i>.</i><i>.</i><i>.</i></div></div>
<div class="r" style="top:1425px"><span class="p">Period 6 of 10</span><span class="l">7 Days - 12/26/24 to 01/02/25</span><span class="i">INTERNET - Internet Software &amp; Services</span><span class="n">8</span><em class="bn" style="left:1063px;width:56px"></em><em class="bn" style="left:1167px;width:26px"></em><em class="bp" style="left:1299px;width:9px"></em><span class="vm">-15%</span><span class="va">-3%</span><span class="vx">2%</span><span class="s U">Unchanged</span><div class="L"><i>.</i><i>.</i><i>.</i><i>.</i><i>.</i><b>8 Sftwre/Serv</b><i>.</i><i>.</i><i>.</i></div></div>
<div class="r" style="top:1456px"><span class="p">Period 7 of 10</span><span class="l">7 Days - 12/19/24 to 12/26/24</span><span class="i">INTERNET - Internet Software &amp; Services</span><span class="n">8</span><em class="bn" style="left:1117px;width:2px"></em><em class="bp" style="left:1193px;width:50px"></em><em class="bp" style="left:1299px;width:70px"></em><span class="vm">0%</span><span class="va">5%</span><span class="vx">16%</span><span class="s S">Strengthened</span><div class="L"><i>.</i><i>.</i><i>.</i><i>.</i><i>.</i><b>8 Sftwre/Serv</b><i>.</i><i>.</i><i>.</i></div></div>
<div class="r" style="top:1486px"><span class="p">Period 8 of 10</span><span class="l">7 Days - 12/12/24 to 12/19/24</span><span class="i">INTERNET - Internet Software &amp; Services</span><span class="n">8</span><em class="bn" style="left:1087px;width:32px"></em><em class="bn" style="left:1176px;width:17px"></em><em class="bp" style="left:1299px;width:58px"></em><span class="vm">-8%</span><span class="va">-2%</span><span class="vx">14%</span><span class="s W">Weakened</span><div class="L"><i>.</i><i>.</i><i>.</i><i>.</i><i>.</i><b>8 Sftwre/Serv</b><i>.</i><i>.</i><i>.</i></div></div>
<div class="r" style="top:1517px"><span class="p">Period 9 of 10</span><span class="l">7 Days - 12/05/24 to 12/12/24</span><span class="i">INTERNET - Internet Software &amp; Services</span><span class="n">8</span><em class="bn" style="left:1033px;width:86px"></em><em class="bn" style="left:1167px;width:26px"></em><em class="bp" style="left:1299px;width:16px"></em><span class="vm">-22%</span><span class="va">-3%</span><span class="vx">4%</span><span class="s W">Weakened</span><div class="L"><i>.</i><i>.</i><i>.</i><i>.</i><i>.</i><b>8 Sftwre/Serv</b><i>.</i><i>.</i><i>.</i></div></div>
<div class="r" style="top:1547px"><span class="p">Period 10 of 10</span><span class="l">8 Days - 11/27/24 to 12/05/24</span><span class="i">INTERNET - Internet Software &amp; Services</span><span class="n">8</span><em class="bn" style="left:1076px;width:43px"></em><em class="bp" style="left:1193px;width:3px"></em><em class="bp" style="left:1299px;width:77px"></em><span class="vm">-11%</span><span class="va">0%</span><span class="vx">18%</span><span class="s U">Unchanged</span><div class="L"><i>.</i><i>.</i><i>.</i><i>.</i><i>.</i><b>8 Sftwre/Serv</b><i>.</i><i>.</i><i>.</i></div></div>

<div class="bx" style="left:0;top:46px;width:546px;height:4px;background:#00f"></div>
<div class="bx" style="left:1154px;top:48px;width:3px;height:1530px;background:#00f"></div>
<div class="bx" style="left:1278px;top:48px;width:3px;height:1530px;background:#00f"></div>
<div class="bx" style="left:1402px;top:48px;width:3px;height:1530px;background:#00f"></div>
<div class="bx" style="left:0;top:352px;width:3235px;height:4px;background:#00f"></div>
<div class="bx" style="left:0;top:658px;width:3235px;height:3px;background:#00f"></div>
<div class="bx" style="left:0;top:964px;width:3235px;height:3px;background:#00f"></div>
<div class="bx" style="left:0;top:1270px;width:3235px;height:3px;background:#00f"></div>
<div class="bx" style="left:0;top:1575px;width:3235px;height:3px;background:#00f"></div>
<div class="bx" style="left:0;top:0;width:3235px;height:2px;background:#777"></div>
</body></html>
